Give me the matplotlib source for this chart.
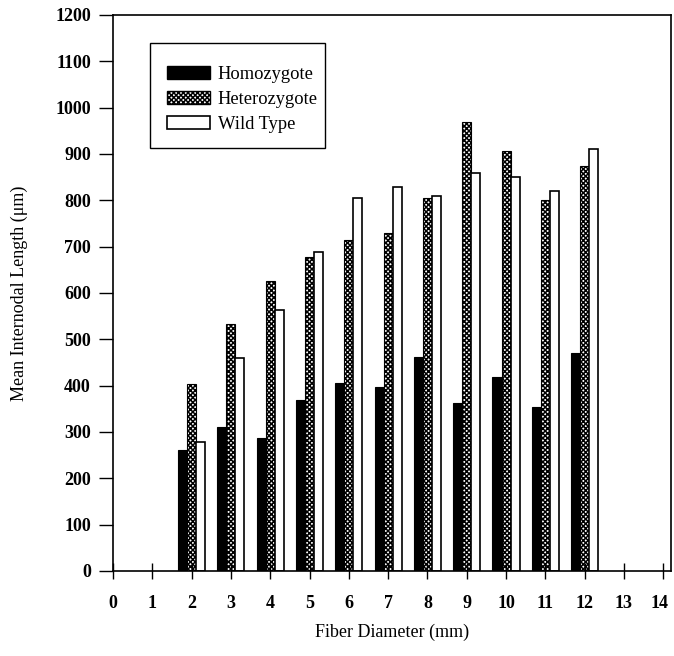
import numpy as np
import matplotlib
matplotlib.use("Agg")
import matplotlib.pyplot as plt
import matplotlib.transforms as mtransforms
from matplotlib.patches import Patch, Rectangle

plt.rcParams['font.family'] = ['Liberation Serif', 'DejaVu Serif']
plt.rcParams['hatch.linewidth'] = 1.1

# valores
diametros = [2, 3, 4, 5, 6, 7, 8, 9, 10, 11, 12]
homozigoto = [262, 310, 287, 368, 405, 398, 462, 362, 418, 353, 470]
heterozigoto = [403, 533, 625, 677, 714, 730, 806, 970, 907, 800, 874]
selvagem = [278, 460, 564, 688, 806, 828, 810, 858, 850, 820, 910]

nomes = ["Homozygote", "Heterozygote", "Wild Type"]
x_ticks = list(range(0, 15))
y_ticks = list(range(0, 1201, 100))

fig = plt.figure(figsize=(6.74, 6.56), dpi=100)
ax = fig.add_axes([0.1677, 0.1296, 0.828, 0.8476])

x = np.array(diametros, dtype=float)
w = 0.23
ax.bar(x - w, homozigoto, w, color='black', edgecolor='black', linewidth=0.8)
ax.bar(x, heterozigoto, w, color='white', edgecolor='black', hatch='xxxxxxx', linewidth=0.8)
ax.bar(x + w, selvagem, w, color='white', edgecolor='black', linewidth=1.2)

ax.set_xlim(0, 14.2)
ax.set_ylim(0, 1200)
ax.set_xticks(x_ticks)
ax.set_yticks(y_ticks)
ax.tick_params(axis='x', direction='inout', length=12, width=1, labelsize=13, pad=11)
ax.tick_params(axis='y', direction='out', length=10, width=1, labelsize=13, pad=6)
for lbl in ax.get_xticklabels() + ax.get_yticklabels():
    lbl.set_fontweight('bold')
for s in ax.spines.values():
    s.set_linewidth(1.2)

ax.set_xlabel("Fiber Diameter (mm)", fontsize=13)
ax.set_ylabel("Mean Internodal Length (\u03bcm)", fontsize=13)
ax.xaxis.set_label_coords(0.5, -0.094)
ax.yaxis.set_label_coords(-0.152, 0.5)

# caixa da legenda desenhada à mão (margens assimétricas no original)
ax.add_patch(Rectangle((0.0663, 0.761), 0.3136, 0.189, transform=ax.transAxes,
                       facecolor='white', edgecolor='black', linewidth=1.0, zorder=4))
handles = [
    Patch(facecolor='black', edgecolor='black'),
    Patch(facecolor='white', edgecolor='black', hatch='xxxxxxx'),
    Patch(facecolor='white', edgecolor='black', linewidth=1.2),
]
leg = ax.legend(handles, nomes, loc='upper left', bbox_to_anchor=(0.0968, 0.909),
                fontsize=13.3, frameon=False, handlelength=2.32,
                handleheight=0.76, borderpad=0, labelspacing=0.42,
                handletextpad=0.43, borderaxespad=0)
leg.set_zorder(5)

# último rótulo do eixo x ligeiramente à esquerda, como no original
fig.canvas.draw()
ult = ax.get_xticklabels()[-1]
ult.set_transform(ult.get_transform() + mtransforms.ScaledTranslation(-4 / 100, 0, fig.dpi_scale_trans))

fig.savefig("out.png", dpi=100)
